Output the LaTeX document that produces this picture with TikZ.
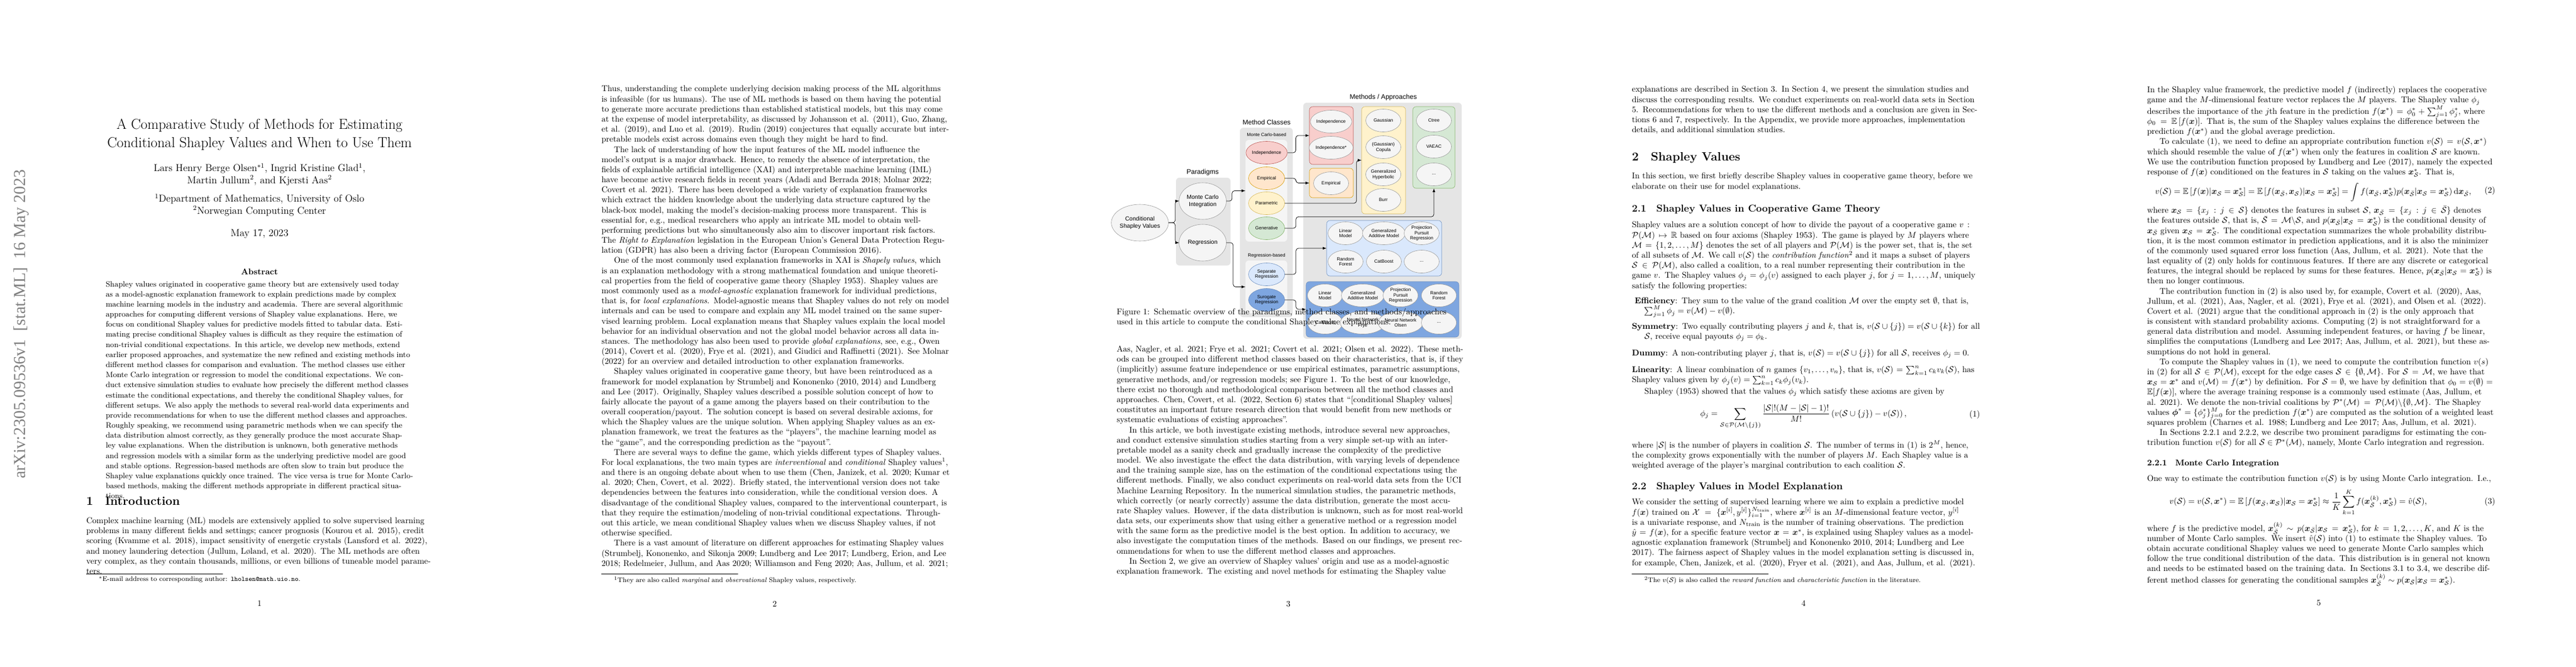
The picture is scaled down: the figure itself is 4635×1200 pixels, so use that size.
\documentclass[tikz,border=0pt]{standalone}
\usepackage{amsmath,amssymb}
\usepackage{fontspec}
\newfontfamily\figfont{Liberation Sans}
\newfontfamily\stampfont{Liberation Serif}
\usetikzlibrary{positioning,shapes.geometric,arrows}
\def\pxu{0.023294cm}
\newcommand{\cS}{\mathcal{S}}
\newcommand{\cM}{\mathcal{M}}
\newcommand{\cP}{\mathcal{P}}
\newcommand{\Sbar}{\bar{\mathcal{S}}}
\newcommand{\xb}{\boldsymbol{x}}
\definecolor{redfill}{HTML}{F8CECC}\definecolor{redline}{HTML}{B85450}
\definecolor{orfill}{HTML}{FFE6CC}\definecolor{orline}{HTML}{D79B00}
\definecolor{yelfill}{HTML}{FFF2CC}\definecolor{yelline}{HTML}{D6B656}
\definecolor{grnfill}{HTML}{D5E8D4}\definecolor{grnline}{HTML}{82B366}
\definecolor{ltbfill}{HTML}{DAE8FC}\definecolor{ltbline}{HTML}{6C8EBF}
\definecolor{dkbfill}{HTML}{7EA6E0}

\begin{document}
\begin{tikzpicture}[x=0.023294cm,y=-0.023294cm,>=latex,
  body/.style={anchor=north west,inner sep=0,text width=14.6cm,font=\fontsize{10}{12.05}\selectfont},
  pnum/.style={font=\fontsize{10}{12}\selectfont,inner sep=0},
  sechead/.style={anchor=north west,inner sep=0,font=\fontsize{14.4}{18}\selectfont\bfseries},
  subhead/.style={anchor=north west,inner sep=0,font=\fontsize{12}{14}\selectfont\bfseries},
  fnote/.style={anchor=north west,inner sep=0,text width=14.6cm,font=\fontsize{8}{9.5}\selectfont},
  grp/.style={rounded corners=4pt,inner sep=0},
  cls/.style={ellipse,draw,inner sep=0,align=center,minimum width=65*\pxu,minimum height=41*\pxu,font=\figfont\fontsize{5.5}{6.5}\selectfont},
  meth/.style={cls,fill=gray!8,draw=gray!80,minimum width=63*\pxu},
  para/.style={cls,fill=gray!8,draw=gray!80,minimum width=85*\pxu,minimum height=66*\pxu,font=\figfont\fontsize{7}{8.5}\selectfont},
  figlabel/.style={font=\figfont\fontsize{8}{9}\selectfont,inner sep=0},
  flow/.style={->,rounded corners=3pt,line width=.5pt}]
\useasboundingbox (0,0) rectangle (4635,1200);

% Page 1
\node[rotate=90,anchor=east,text=gray,font=\stampfont\fontsize{20}{20}\selectfont] (stamp) at (38,300) {arXiv:2305.09536v1\ \ [stat.ML]\ \ 16 May 2023};
\node[anchor=north,align=center,font=\fontsize{17.28}{22}\selectfont] (title) at (467,209) {A Comparative Study of Methods for Estimating\\Conditional Shapley Values and When to Use Them};
\node[anchor=north,align=center,font=\fontsize{12}{14.5}\selectfont] (authors) at (467,289) {Lars Henry Berge Olsen$^{*1}$, Ingrid Kristine Glad$^1$,\\Martin Jullum$^2$, and Kjersti Aas$^2$};
\node[anchor=north,align=center,font=\fontsize{12}{14.5}\selectfont] (affil) at (467,344) {$^1$Department of Mathematics, University of Oslo\\$^2$Norwegian Computing Center};
\node[font=\fontsize{12}{14.5}\selectfont] (date) at (467,421) {May 17, 2023};
\node[font=\fontsize{10}{12}\selectfont\bfseries] (abshead) at (467,489) {Abstract};
\node[body,text width=12.9cm,font=\fontsize{9.2}{12.05}\selectfont] (abstract) at (190,506) {\setlength{\parindent}{15pt}Shapley values originated in cooperative game theory but are extensively used today as a model-agnostic explanation framework to explain predictions made by complex machine learning models in the industry and academia. There are several algorithmic approaches for computing different versions of Shapley value explanations. Here, we focus on conditional Shapley values for predictive models fitted to tabular data. Estimating precise conditional Shapley values is difficult as they require the estimation of non-trivial conditional expectations. In this article, we develop new methods, extend earlier proposed approaches, and systematize the new refined and existing methods into different method classes for comparison and evaluation. The method classes use either Monte Carlo integration or regression to model the conditional expectations. We conduct extensive simulation studies to evaluate how precisely the different method classes estimate the conditional expectations, and thereby the conditional Shapley values, for different setups. We also apply the methods to several real-world data experiments and provide recommendations for when to use the different method classes and approaches. Roughly speaking, we recommend using parametric methods when we can specify the data distribution almost correctly, as they generally produce the most accurate Shapley value explanations. When the distribution is unknown, both generative methods and regression models with a similar form as the underlying predictive model are good and stable options. Regression-based methods are often slow to train but produce the Shapley value explanations quickly once trained. The vice versa is true for Monte Carlo-based methods, making the different methods appropriate in different practical situations.};
\node[sechead] (intro) at (155,894) {1\quad Introduction};
\node[body] (introtext) at (155,931) {\noindent Complex machine learning (ML) models are extensively applied to solve supervised learning problems in many different fields and settings; cancer prognosis (Kourou et al. 2015), credit scoring (Kvamme et al. 2018), impact sensitivity of energetic crystals (Lansford et al. 2022), and money laundering detection (Jullum, Løland, et al. 2020). The ML methods are often very complex, as they contain thousands, millions, or even billions of tuneable model parameters.};
\draw[line width=.4pt] (155,1033) -- (401,1033);
\node[fnote] (fn1) at (155,1038) {\hspace{15pt}$^*$E-mail address to corresponding author: \texttt{lholsen@math.uio.no}.};
\node[pnum] (p1) at (467,1086) {1};

% Page 2
\node[body] (p2text) at (1082,154) {\setlength{\parindent}{15pt}\noindent Thus, understanding the complete underlying decision making process of the ML algorithms is infeasible (for us humans). The use of ML methods is based on them having the potential to generate more accurate predictions than established statistical models, but this may come at the expense of model interpretability, as discussed by Johansson et al. (2011), Guo, Zhang, et al. (2019), and Luo et al. (2019). Rudin (2019) conjectures that equally accurate but interpretable models exist across domains even though they might be hard to find.

The lack of understanding of how the input features of the ML model influence the model's output is a major drawback. Hence, to remedy the absence of interpretation, the fields of explainable artificial intelligence (XAI) and interpretable machine learning (IML) have become active research fields in recent years (Adadi and Berrada 2018; Molnar 2022; Covert et al. 2021). There has been developed a wide variety of explanation frameworks which extract the hidden knowledge about the underlying data structure captured by the black-box model, making the model's decision-making process more transparent. This is essential for, e.g., medical researchers who apply an intricate ML model to obtain well-performing predictions but who simultaneously also aim to discover important risk factors. The \emph{Right to Explanation} legislation in the European Union's General Data Protection Regulation (GDPR) has also been a driving factor (European Commission 2016).

One of the most commonly used explanation frameworks in XAI is \emph{Shapely values}, which is an explanation methodology with a strong mathematical foundation and unique theoretical properties from the field of cooperative game theory (Shapley 1953). Shapley values are most commonly used as a \emph{model-agnostic} explanation framework for individual predictions, that is, for \emph{local explanations}. Model-agnostic means that Shapley values do not rely on model internals and can be used to compare and explain any ML model trained on the same supervised learning problem. Local explanation means that Shapley values explain the local model behavior for an individual observation and not the global model behavior across all data instances. The methodology has also been used to provide \emph{global explanations}, see, e.g., Owen (2014), Covert et al. (2020), Frye et al. (2021), and Giudici and Raffinetti (2021). See Molnar (2022) for an overview and detailed introduction to other explanation frameworks.

Shapley values originated in cooperative game theory, but have been reintroduced as a framework for model explanation by Strumbelj and Kononenko (2010, 2014) and Lundberg and Lee (2017). Originally, Shapley values described a possible solution concept of how to fairly allocate the payout of a game among the players based on their contribution to the overall cooperation/payout. The solution concept is based on several desirable axioms, for which the Shapley values are the unique solution. When applying Shapley values as an explanation framework, we treat the features as the ``players'', the machine learning model as the ``game'', and the corresponding prediction as the ``payout''.

There are several ways to define the game, which yields different types of Shapley values. For local explanations, the two main types are \emph{interventional} and \emph{conditional} Shapley values$^1$, and there is an ongoing debate about when to use them (Chen, Janizek, et al. 2020; Kumar et al. 2020; Chen, Covert, et al. 2022). Briefly stated, the interventional version does not take dependencies between the features into consideration, while the conditional version does. A disadvantage of the conditional Shapley values, compared to the interventional counterpart, is that they require the estimation/modeling of non-trivial conditional expectations. Throughout this article, we mean conditional Shapley values when we discuss Shapley values, if not otherwise specified.

There is a vast amount of literature on different approaches for estimating Shapley values (Strumbelj, Kononenko, and Sikonja 2009; Lundberg and Lee 2017; Lundberg, Erion, and Lee 2018; Redelmeier, Jullum, and Aas 2020; Williamson and Feng 2020; Aas, Jullum, et al. 2021;};
\draw[line width=.4pt] (1082,1033) -- (1328,1033);
\node[fnote] (fn2) at (1082,1038) {\hspace{15pt}$^1$They are also called \emph{marginal} and \emph{observational} Shapley values, respectively.};
\node[pnum] (p2) at (1394,1087) {2};

% Page 3: figure
\node[figlabel] (lpar) at (2164,310) {Paradigms};
\node[figlabel] (lcls) at (2279,220) {Method Classes};
\node[figlabel] (lmeth) at (2489,175) {Methods / Approaches};
\node[grp,fill=gray!20,minimum width=98*\pxu,minimum height=158*\pxu] (pargrp) at (2165,399) {};
\node[grp,fill=gray!20,minimum width=95*\pxu,minimum height=341*\pxu] (clsgrp) at (2278.5,400.5) {};
\node[grp,fill=gray!8,minimum width=75*\pxu,minimum height=183*\pxu] (mcgrp) at (2278.5,343.5) {};
\node[grp,fill=gray!8,minimum width=75*\pxu,minimum height=95*\pxu] (rggrp) at (2278.5,516.5) {};
\node[grp,fill=gray!20,minimum width=285*\pxu,minimum height=425*\pxu] (methgrp) at (2487.5,397.5) {};
\node[figlabel,font=\figfont\fontsize{5.5}{6.5}\selectfont] (lmc) at (2279,243) {Monte Carlo-based};
\node[figlabel,font=\figfont\fontsize{5.5}{6.5}\selectfont] (lrg) at (2279,460) {Regression-based};
\node[grp,fill=redfill,draw=redline,minimum width=79*\pxu,minimum height=104*\pxu] (redgrp) at (2395.5,244) {};
\node[grp,fill=orfill,draw=orline,minimum width=79*\pxu,minimum height=53*\pxu] (orgrp) at (2395.5,329.5) {};
\node[grp,fill=yelfill,draw=yelline,minimum width=79*\pxu,minimum height=193*\pxu] (yelgrp) at (2489.5,288.5) {};
\node[grp,fill=grnfill,draw=grnline,minimum width=76*\pxu,minimum height=147*\pxu] (grngrp) at (2580,265.5) {};
\node[grp,fill=ltbfill,draw=ltbline,minimum width=207*\pxu,minimum height=100*\pxu] (ltbgrp) at (2490.5,447) {};
\node[grp,fill=dkbfill,draw=ltbline,minimum width=275*\pxu,minimum height=100*\pxu] (dkbgrp) at (2487.5,557) {};

\node[para] (csv) at (2051,401) {Conditional\\Shapley Values};
\node[para] (mci) at (2164,362) {Monte Carlo\\Integration};
\node[para] (reg) at (2164,437) {Regression};

\node[cls,fill=redfill,draw=redline] (cind) at (2279,275) {Independence};
\node[cls,fill=orfill,draw=orline] (cemp) at (2279,321) {Empirical};
\node[cls,fill=yelfill,draw=yelline] (cpar) at (2279,366) {Parametric};
\node[cls,fill=grnfill,draw=grnline] (cgen) at (2279,411) {Generative};
\node[cls,fill=ltbfill,draw=ltbline] (csep) at (2279,494) {Separate\\Regression};
\node[cls,fill=dkbfill,draw=ltbline] (csur) at (2279,540) {Surogate\\Regression};

\node[meth] (mind) at (2395,219) {Independence};
\node[meth] (mindx) at (2395,266) {Independence*};
\node[meth] (memp) at (2395,330) {Empirical};
\node[meth] (mgau) at (2489,217) {Gaussian};
\node[meth] (mcop) at (2489,265) {(Gaussian)\\Copula};
\node[meth] (mgh) at (2489,314) {Generalized\\Hyperbolic};
\node[meth] (mburr) at (2489,360) {Burr};
\node[meth] (mctree) at (2580,217) {Ctree};
\node[meth] (mvaeac) at (2580,264) {VAEAC};
\node[meth] (mgdots) at (2580,314) {...};
\node[meth] (slm) at (2421,420) {Linear\\Model};
\node[meth] (sgam) at (2490,420) {Generalized\\Additive Model};
\node[meth] (sppr) at (2558,420) {Projection\\Pursuit\\Regression};
\node[meth] (srf) at (2421,471) {Random\\Forest};
\node[meth] (scat) at (2490,471) {CatBoost};
\node[meth] (sdots) at (2558,471) {...};
\node[meth] (ulm) at (2384,532) {Linear\\Model};
\node[meth] (ugam) at (2452,532) {Generalized\\Additive Model};
\node[meth] (uppr) at (2520,532) {Projection\\Pursuit\\Regression};
\node[meth] (urf) at (2589,532) {Random\\Forest};
\node[meth] (ucat) at (2384,581) {CatBoost};
\node[meth] (unnf) at (2452,581) {Neural Network\\Frye};
\node[meth] (unno) at (2520,581) {Neural Network\\Olsen};
\node[meth] (udots) at (2589,581) {...};

\draw[flow] (csv.east) -- ++(12,0) |- (mci.west);
\draw[flow] (csv.east) -- ++(12,0) |- (reg.west);
\draw[flow] (mci.east) -- ++(10,0) |- (mcgrp.west);
\draw[flow] (reg.east) -- ++(12,0) |- (rggrp.west);
\draw[flow] (cind.east) -- ++(15,0) |- (redgrp.west);
\draw[flow] (cemp.east) -- ++(20,0) |- (orgrp.west);
\draw[flow] (cpar.east) -| ([xshift=-9*\pxu]yelgrp.west) -- (yelgrp.west);
\draw[flow] (cgen.east) -- ++(20,0) |- ([yshift=-51*\pxu]grngrp.south) -- (grngrp.south);
\draw[flow] (csep.east) -- ++(20,0) |- (ltbgrp.west);
\draw[flow] (csur.east) -- ++(20,0) |- (dkbgrp.west);

\node[body] (caption) at (2009,555) {Figure 1: Schematic overview of the paradigms, method classes, and methods/approaches used in this article to compute the conditional Shapley value explanations.};
\node[body] (p3text) at (2009,622) {\setlength{\parindent}{15pt}\noindent Aas, Nagler, et al. 2021; Frye et al. 2021; Covert et al. 2021; Olsen et al. 2022). These methods can be grouped into different method classes based on their characteristics, that is, if they (implicitly) assume feature independence or use empirical estimates, parametric assumptions, generative methods, and/or regression models; see Figure 1. To the best of our knowledge, there exist no thorough and methodological comparison between all the method classes and approaches. Chen, Covert, et al. (2022, Section 6) states that ``[conditional Shapley values] constitutes an important future research direction that would benefit from new methods or systematic evaluations of existing approaches''.

In this article, we both investigate existing methods, introduce several new approaches, and conduct extensive simulation studies starting from a very simple set-up with an interpretable model as a sanity check and gradually increase the complexity of the predictive model. We also investigate the effect the data distribution, with varying levels of dependence and the training sample size, has on the estimation of the conditional expectations using the different methods. Finally, we also conduct experiments on real-world data sets from the UCI Machine Learning Repository. In the numerical simulation studies, the parametric methods, which correctly (or nearly correctly) assume the data distribution, generate the most accurate Shapley values. However, if the data distribution is unknown, such as for most real-world data sets, our experiments show that using either a generative method or a regression model with the same form as the predictive model is the best option. In addition to accuracy, we also investigate the computation times of the methods. Based on our findings, we present recommendations for when to use the different method classes and approaches.

In Section 2, we give an overview of Shapley values' origin and use as a model-agnostic explanation framework. The existing and novel methods for estimating the Shapley value};
\node[pnum] (p3) at (2318,1088) {3};

% Page 4
\node[body] (p4a) at (2936,155) {\noindent explanations are described in Section 3. In Section 4, we present the simulation studies and discuss the corresponding results. We conduct experiments on real-world data sets in Section 5. Recommendations for when to use the different methods and a conclusion are given in Sections 6 and 7, respectively. In the Appendix, we provide more approaches, implementation details, and additional simulation studies.};
\node[sechead] (sec2) at (2936,274) {2\quad Shapley Values};
\node[body] (p4b) at (2936,311) {\noindent In this section, we first briefly describe Shapley values in cooperative game theory, before we elaborate on their use for model explanations.};
\node[subhead] (sec21) at (2936,369) {2.1\quad Shapley Values in Cooperative Game Theory};
\node[body] (p4c) at (2936,399) {\noindent Shapley values are a solution concept of how to divide the payout of a cooperative game $v:\cP(\cM)\mapsto\mathbb{R}$ based on four axioms (Shapley 1953). The game is played by $M$ players where $\cM=\{1,2,\dots,M\}$ denotes the set of all players and $\cP(\cM)$ is the power set, that is, the set of all subsets of $\cM$. We call $v(\cS)$ the \emph{contribution function}$^2$ and it maps a subset of players $\cS\in\cP(\cM)$, also called a coalition, to a real number representing their contribution in the game $v$. The Shapley values $\phi_j=\phi_j(v)$ assigned to each player $j$, for $j=1,\dots,M$, uniquely satisfy the following properties:};
\node[body] (axioms) at (2936,535) {\setlength{\parindent}{0pt}
\hangindent=15pt\hangafter=1\textbf{Efficiency}: They sum to the value of the grand coalition $\cM$ over the empty set $\emptyset$, that is, $\sum_{j=1}^M\phi_j=v(\cM)-v(\emptyset)$.\par\vspace{6pt}
\hangindent=15pt\hangafter=1\textbf{Symmetry}: Two equally contributing players $j$ and $k$, that is, $v(\cS\cup\{j\})=v(\cS\cup\{k\})$ for all $\cS$, receive equal payouts $\phi_j=\phi_k$.\par\vspace{8pt}
\hangindent=15pt\hangafter=1\textbf{Dummy}: A non-contributing player $j$, that is, $v(\cS)=v(\cS\cup\{j\})$ for all $\cS$, receives $\phi_j=0$.\par\vspace{8pt}
\hangindent=15pt\hangafter=1\textbf{Linearity}: A linear combination of $n$ games $\{v_1,\dots,v_n\}$, that is, $v(\cS)=\sum_{k=1}^n c_kv_k(\cS)$, has Shapley values given by $\phi_j(v)=\sum_{k=1}^n c_k\phi_j(v_k)$.};
\node[body] (p4d) at (2936,698) {\hspace*{15pt}Shapley (1953) showed that the values $\phi_j$ which satisfy these axioms are given by};
\node[inner sep=0,font=\fontsize{10}{12}\selectfont] (eq1) at (3245,750) {$\displaystyle \phi_j=\sum_{\cS\in\cP(\cM\setminus\{j\})}\frac{|\cS|!(M-|\cS|-1)!}{M!}\left(v(\cS\cup\{j\})-v(\cS)\right),$};
\node[anchor=east,inner sep=0,font=\fontsize{10}{12}\selectfont] (eq1n) at (3563,747) {(1)};
\node[body] (p4e) at (2936,793) {\noindent where $|\cS|$ is the number of players in coalition $\cS$. The number of terms in (1) is $2^M$, hence, the complexity grows exponentially with the number of players $M$. Each Shapley value is a weighted average of the player's marginal contribution to each coalition $\cS$.};
\node[subhead] (sec22) at (2936,869) {2.2\quad Shapley Values in Model Explanation};
\node[body] (p4f) at (2936,898) {\noindent We consider the setting of supervised learning where we aim to explain a predictive model $f(\xb)$ trained on $\mathcal{X}=\{\xb^{[i]},y^{[i]}\}_{i=1}^{N_\text{train}}$, where $\xb^{[i]}$ is an $M$-dimensional feature vector, $y^{[i]}$ is a univariate response, and $N_\text{train}$ is the number of training observations. The prediction $\hat{y}=f(\xb)$, for a specific feature vector $\xb=\xb^*$, is explained using Shapley values as a model-agnostic explanation framework (Strumbelj and Kononenko 2010, 2014; Lundberg and Lee 2017). The fairness aspect of Shapley values in the model explanation setting is discussed in, for example, Chen, Janizek, et al. (2020), Fryer et al. (2021), and Aas, Jullum, et al. (2021).};
\draw[line width=.4pt] (2936,1033) -- (3182,1033);
\node[fnote] (fn4) at (2936,1038) {\hspace{15pt}$^2$The $v(\cS)$ is also called the \emph{reward function} and \emph{characteristic function} in the literature.};
\node[pnum] (p4) at (3245,1086) {4};

% Page 5
\node[body] (p5a) at (3863,155) {\setlength{\parindent}{15pt}In the Shapley value framework, the predictive model $f$ (indirectly) replaces the cooperative game and the $M$-dimensional feature vector replaces the $M$ players. The Shapley value $\phi_j$ describes the importance of the $j$th feature in the prediction $f(\xb^*)=\phi_0^*+\sum_{j=1}^M\phi_j^*$, where $\phi_0=\mathbb{E}\left[f(\xb)\right]$. That is, the sum of the Shapley values explains the difference between the prediction $f(\xb^*)$ and the global average prediction.

To calculate (1), we need to define an appropriate contribution function $v(\cS)=v(\cS,\xb^*)$ which should resemble the value of $f(\xb^*)$ when only the features in coalition $\cS$ are known. We use the contribution function proposed by Lundberg and Lee (2017), namely the expected response of $f(\xb)$ conditioned on the features in $\cS$ taking on the values $\xb^*_\cS$. That is,};
\node[inner sep=0,font=\fontsize{10}{12}\selectfont] (eq2) at (4162,346) {$\displaystyle v(\cS)=\mathbb{E}\left[f(\xb)|\xb_\cS=\xb^*_\cS\right]=\mathbb{E}\left[f(\xb_{\Sbar},\xb_\cS)|\xb_\cS=\xb^*_\cS\right]=\int f(\xb_{\Sbar},\xb^*_\cS)p(\xb_{\Sbar}|\xb_\cS=\xb^*_\cS)\,\mathrm{d}\xb_{\Sbar},$};
\node[anchor=east,inner sep=0,font=\fontsize{10}{12}\selectfont] (eq2n) at (4490,344) {(2)};
\node[body] (p5b) at (3863,371) {\setlength{\parindent}{15pt}\noindent where $\xb_\cS=\{x_j:j\in\cS\}$ denotes the features in subset $\cS$, $\xb_{\Sbar}=\{x_j:j\in\Sbar\}$ denotes the features outside $\cS$, that is, $\Sbar=\cM\backslash\cS$, and $p(\xb_{\Sbar}|\xb_\cS=\xb^*_\cS)$ is the conditional density of $\xb_{\Sbar}$ given $\xb_\cS=\xb^*_\cS$. The conditional expectation summarizes the whole probability distribution, it is the most common estimator in prediction applications, and it is also the minimizer of the commonly used squared error loss function (Aas, Jullum, et al. 2021). Note that the last equality of (2) only holds for continuous features. If there are any discrete or categorical features, the integral should be replaced by sums for these features. Hence, $p(\xb_{\Sbar}|\xb_\cS=\xb^*_\cS)$ is then no longer continuous.

The contribution function in (2) is also used by, for example, Covert et al. (2020), Aas, Jullum, et al. (2021), Aas, Nagler, et al. (2021), Frye et al. (2021), and Olsen et al. (2022). Covert et al. (2021) argue that the conditional approach in (2) is the only approach that is consistent with standard probability axioms. Computing (2) is not straightforward for a general data distribution and model. Assuming independent features, or having $f$ be linear, simplifies the computations (Lundberg and Lee 2017; Aas, Jullum, et al. 2021), but these assumptions do not hold in general.

To compute the Shapley values in (1), we need to compute the contribution function $v(s)$ in (2) for all $\cS\in\cP(\cM)$, except for the edge cases $\cS\in\{\emptyset,\cM\}$. For $\cS=\cM$, we have that $\xb_\cS=\xb^*$ and $v(\cM)=f(\xb^*)$ by definition. For $\cS=\emptyset$, we have by definition that $\phi_0=v(\emptyset)=\mathbb{E}[f(\xb)]$, where the average training response is a commonly used estimate (Aas, Jullum, et al. 2021). We denote the non-trivial coalitions by $\cP^*(\cM)=\cP(\cM)\backslash\{\emptyset,\cM\}$. The Shapley values $\boldsymbol{\phi}^*=\{\phi_j^*\}_{j=0}^M$ for the prediction $f(\xb^*)$ are computed as the solution of a weighted least squares problem (Charnes et al. 1988; Lundberg and Lee 2017; Aas, Jullum, et al. 2021).

In Sections 2.2.1 and 2.2.2, we describe two prominent paradigms for estimating the contribution function $v(\cS)$ for all $\cS\in\cP^*(\cM)$, namely, Monte Carlo integration and regression.};
\node[anchor=north west,inner sep=0,font=\fontsize{10}{12}\selectfont\bfseries] (sec221) at (3863,828) {2.2.1\quad Monte Carlo Integration};
\node[body] (p5c) at (3863,855) {\noindent One way to estimate the contribution function $v(\cS)$ is by using Monte Carlo integration. I.e.,};
\node[inner sep=0,font=\fontsize{10}{12}\selectfont] (eq3) at (4135,904) {$\displaystyle v(\cS)=v(\cS,\xb^*)=\mathbb{E}\left[f(\xb_{\Sbar},\xb_\cS)|\xb_\cS=\xb^*_\cS\right]\approx\frac{1}{K}\sum_{k=1}^K f(\xb^{(k)}_{\Sbar},\xb^*_\cS)=\hat{v}(\cS),$};
\node[anchor=east,inner sep=0,font=\fontsize{10}{12}\selectfont] (eq3n) at (4490,904) {(3)};
\node[body] (p5d) at (3863,940) {\noindent where $f$ is the predictive model, $\xb^{(k)}_{\Sbar}\sim p(\xb_{\Sbar}|\xb_\cS=\xb^*_\cS)$, for $k=1,2,\dots,K$, and $K$ is the number of Monte Carlo samples. We insert $\hat{v}(\cS)$ into (1) to estimate the Shapley values. To obtain accurate conditional Shapley values we need to generate Monte Carlo samples which follow the true conditional distribution of the data. This distribution is in general not known and needs to be estimated based on the training data. In Sections 3.1 to 3.4, we describe different method classes for generating the conditional samples $\xb^{(k)}_{\Sbar}\sim p(\xb_{\Sbar}|\xb_\cS=\xb^*_\cS)$.};
\node[pnum] (p5) at (4172,1086) {5};

\end{tikzpicture}
\end{document}
